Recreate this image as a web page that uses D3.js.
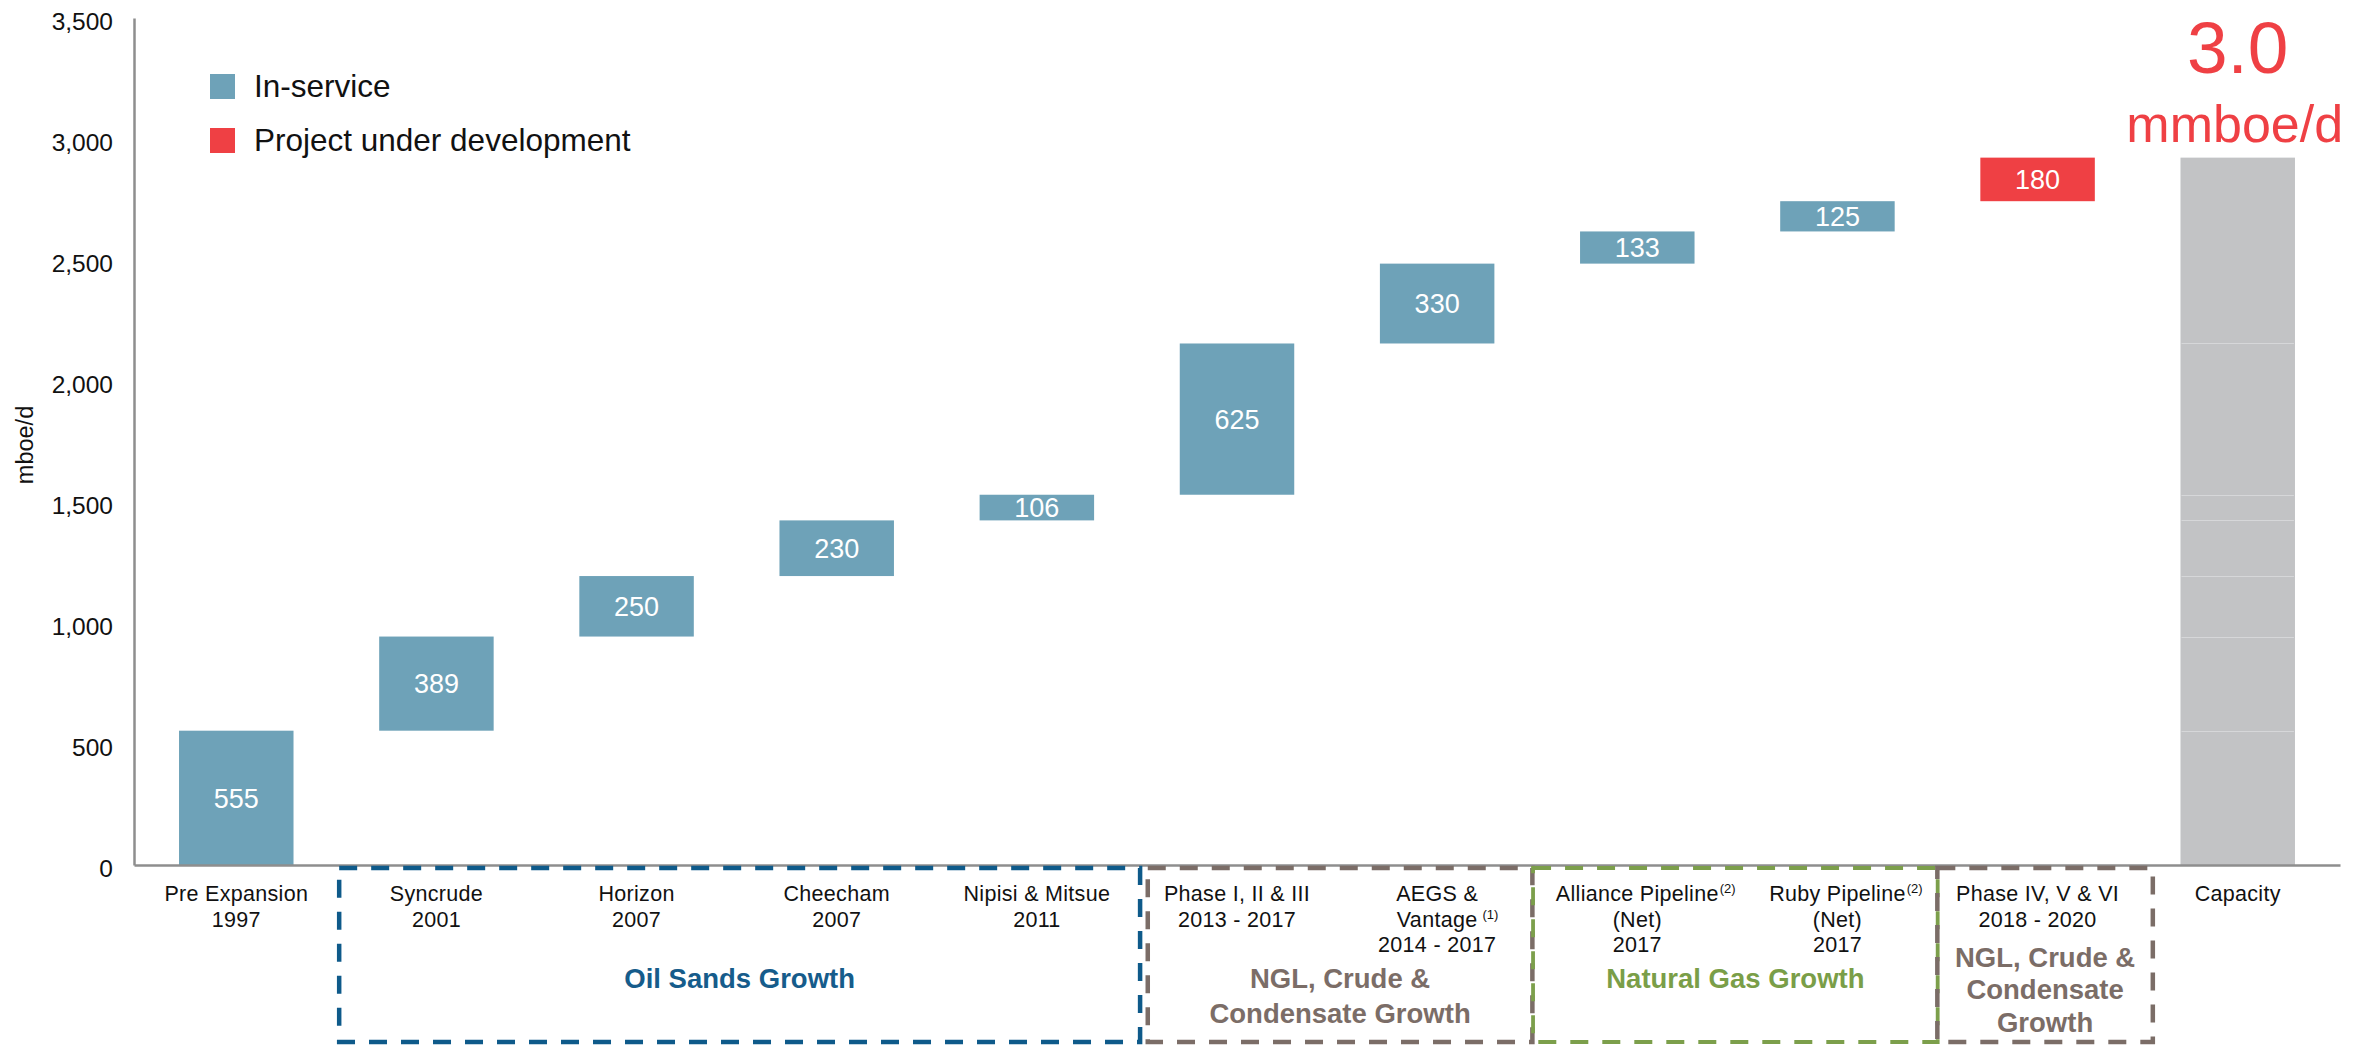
<!DOCTYPE html>
<html>
<head>
<meta charset="utf-8">
<script src="https://cdn.jsdelivr.net/npm/d3@7"></script>
<style>
  html, body { margin: 0; padding: 0; background: #fff; }
  svg { display: block; font-family: "Liberation Sans", Arial, Helvetica, sans-serif; }
</style>
</head>
<body>
<svg id="chart" width="2364" height="1046"></svg>
<script>
// ---- Data ---------------------------------------------------------------
const categories = [
  "Pre Expansion", "Syncrude", "Horizon", "Cheecham", "Nipisi & Mitsue",
  "Phase I, II & III", "AEGS & Vantage", "Alliance Pipeline", "Ruby Pipeline",
  "Phase IV, V & VI", "Capacity"
];

// Axis label lines per category; text after "^" is a footnote superscript
const categoryLabels = [
  ["Pre Expansion", "1997"],
  ["Syncrude", "2001"],
  ["Horizon", "2007"],
  ["Cheecham", "2007"],
  ["Nipisi & Mitsue", "2011"],
  ["Phase I, II & III", "2013 - 2017"],
  ["AEGS &", "Vantage ^(1)", "2014 - 2017"],
  ["Alliance Pipeline^(2)", "(Net)", "2017"],
  ["Ruby Pipeline^(2)", "(Net)", "2017"],
  ["Phase IV, V & VI", "2018 - 2020"],
  ["Capacity"]
];

// Capacity added by each step (mboe/d)
const increments = [555, 389, 250, 230, 106, 625, 330, 133, 125, 180];

const projectStatus = [
  "In-service", "In-service", "In-service", "In-service", "In-service",
  "In-service", "In-service", "In-service", "In-service", "Project under development"
];

const legendItems = ["In-service", "Project under development"];

const yTicks = [0, 500, 1000, 1500, 2000, 2500, 3000, 3500];
const yAxisTitle = "mboe/d";

const groupLabels = [
  ["Oil Sands Growth"],
  ["NGL, Crude &", "Condensate Growth"],
  ["Natural Gas Growth"],
  ["NGL, Crude &", "Condensate", "Growth"]
];
// first and last category index covered by each group
const groupSpans = [[1, 4], [5, 6], [7, 8], [9, 9]];

const headline = ["3.0", "mmboe/d"];

// ---- Styles -------------------------------------------------------------
const statusColor = { "In-service": "#6ea2b8", "Project under development": "#ef4044" };
const capacityColor = "#c2c3c5";
const groupColors = ["#0e5a8a", "#7b6d67", "#7c9f4b", "#7b6d67"];
const groupTextColors = ["#165c8b", "#7b6d67", "#7a9e48", "#7b6d67"];
const groupStroke = [4.5, 4.5, 3.8, 4.5];
// horizontal reach of each group box beyond its first/last bar [left, right]
const groupReach = [[40, 46], [32, 38], [47, 43], [43, 58]];

// ---- Layout -------------------------------------------------------------
const svg = d3.select("#chart");

const x = d3.scaleBand()
  .domain(categories)
  .range([134, 2340])
  .paddingInner(0.428)
  .paddingOuter(0.225);

const y = d3.scaleLinear().domain([0, 3500]).range([865, 18]);
const bw = x.bandwidth();

// Waterfall steps
let running = 0;
const steps = increments.map((v, i) => {
  const s = { cat: categories[i], start: running, end: running + v, value: v, status: projectStatus[i] };
  running += v;
  return s;
});
const total = running;

// ---- Bars ---------------------------------------------------------------
const bars = svg.append("g");
bars.selectAll("rect.step")
  .data(steps)
  .join("rect")
  .attr("class", "step")
  .attr("x", d => x(d.cat))
  .attr("y", d => y(d.end))
  .attr("width", bw)
  .attr("height", d => y(d.start) - y(d.end))
  .attr("fill", d => statusColor[d.status]);

bars.selectAll("text.val")
  .data(steps)
  .join("text")
  .attr("class", "val")
  .attr("x", d => x(d.cat) + bw / 2)
  .attr("y", d => (y(d.start) + y(d.end)) / 2)
  .attr("dy", "0.36em")
  .attr("text-anchor", "middle")
  .attr("fill", "#fff")
  .attr("font-size", "27px")
  .text(d => d.value);

// Capacity total bar with faint joins where earlier steps stack up
const capCat = categories[categories.length - 1];
bars.append("rect")
  .attr("x", x(capCat))
  .attr("y", y(total))
  .attr("width", bw)
  .attr("height", y(0) - y(total))
  .attr("fill", capacityColor);

bars.selectAll("line.join")
  .data(steps.slice(0, 6))
  .join("line")
  .attr("class", "join")
  .attr("x1", x(capCat) + 1)
  .attr("x2", x(capCat) + bw - 1)
  .attr("y1", d => Math.round(y(d.end)) + 0.5)
  .attr("y2", d => Math.round(y(d.end)) + 0.5)
  .attr("stroke", "#d6d7d9")
  .attr("stroke-width", 1);

// ---- Axes ---------------------------------------------------------------
const yAxis = svg.append("g")
  .attr("transform", "translate(134,0)")
  .call(d3.axisLeft(y).tickValues(yTicks).tickFormat(d3.format(",")).tickSize(0).tickSizeOuter(0).tickPadding(21));
yAxis.select(".domain").attr("stroke", "#8e8e8e").attr("stroke-width", 2.5);
yAxis.selectAll("text")
  .attr("font-size", "24.5px")
  .attr("font-family", "'Liberation Sans', Arial, sans-serif")
  .attr("fill", "#111")
  .attr("dy", "0.48em");

const xAxis = svg.append("g")
  .attr("transform", "translate(0,865)")
  .call(d3.axisBottom(x).tickSize(0).tickSizeOuter(0).tickFormat(""));
xAxis.select(".domain").attr("stroke", "#8e8e8e").attr("stroke-width", 2.5);

svg.append("text")
  .attr("transform", "translate(33,445) rotate(-90)")
  .attr("text-anchor", "middle")
  .attr("font-size", "23.5px")
  .attr("fill", "#111")
  .text(yAxisTitle);

// Category labels (multi-line, superscript footnote marks hang to the right)
const catG = svg.append("g");
categories.forEach((cat, i) => {
  const cx = x(cat) + bw / 2;
  categoryLabels[i].forEach((line, j) => {
    const parts = line.split("^");
    const main = parts[0].replace(/\s+$/, "");
    const gap = parts[0].length !== main.length ? 5 : 1;
    const by = 901 + j * 25.5;
    const t = catG.append("text")
      .attr("x", cx)
      .attr("y", by)
      .attr("text-anchor", "middle")
      .attr("font-size", "21.5px")
      .attr("letter-spacing", "0.3px")
      .attr("fill", "#111")
      .text(main);
    if (parts.length > 1) {
      const w = t.node().getComputedTextLength();
      catG.append("text")
        .attr("x", cx + w / 2 + gap)
        .attr("y", by - 8)
        .attr("font-size", "13px")
        .attr("fill", "#111")
        .text(parts[1]);
    }
  });
});

// ---- Group boxes ----------------------------------------------------------
const boxTop = 868, boxBottom = 1042;
const groupG = svg.append("g");
groupSpans.forEach(([a, b], g) => {
  const left = x(categories[a]) - groupReach[g][0];
  const right = x(categories[b]) + bw + groupReach[g][1];
  groupG.append("rect")
    .attr("x", left)
    .attr("y", boxTop)
    .attr("width", right - left)
    .attr("height", boxBottom - boxTop)
    .attr("fill", "none")
    .attr("stroke", groupColors[g])
    .attr("stroke-width", groupStroke[g])
    .attr("stroke-dasharray", "18 14");
  const lines = groupLabels[g];
  const first = lines.length === 3 ? 957 : 978;
  const spacing = lines.length === 3 ? 32.5 : 35;
  lines.forEach((ln, k) => {
    groupG.append("text")
      .attr("x", (left + right) / 2)
      .attr("y", first + k * spacing)
      .attr("dy", "0.36em")
      .attr("text-anchor", "middle")
      .attr("font-size", "27.5px")
      .attr("font-weight", "bold")
      .attr("fill", groupTextColors[g])
      .text(ln);
  });
});

// ---- Legend ---------------------------------------------------------------
const legend = svg.append("g");
legendItems.forEach((name, i) => {
  legend.append("rect")
    .attr("x", 210).attr("y", 74 + i * 54)
    .attr("width", 25).attr("height", 25)
    .attr("fill", statusColor[name]);
  legend.append("text")
    .attr("x", 254).attr("y", 97 + i * 54)
    .attr("font-size", "31.5px")
    .attr("fill", "#111")
    .text(name);
});

// ---- Headline over the capacity bar -----------------------------------------
const hx = x(capCat) + bw / 2;
svg.append("text")
  .attr("x", hx).attr("y", y(total) - 85)
  .attr("text-anchor", "middle")
  .attr("font-size", "73px")
  .attr("fill", "#ef4044")
  .text(headline[0]);
svg.append("text")
  .attr("x", hx - 3).attr("y", y(total) - 16)
  .attr("text-anchor", "middle")
  .attr("font-size", "52px")
  .attr("fill", "#ef4044")
  .text(headline[1]);
</script>
</body>
</html>
